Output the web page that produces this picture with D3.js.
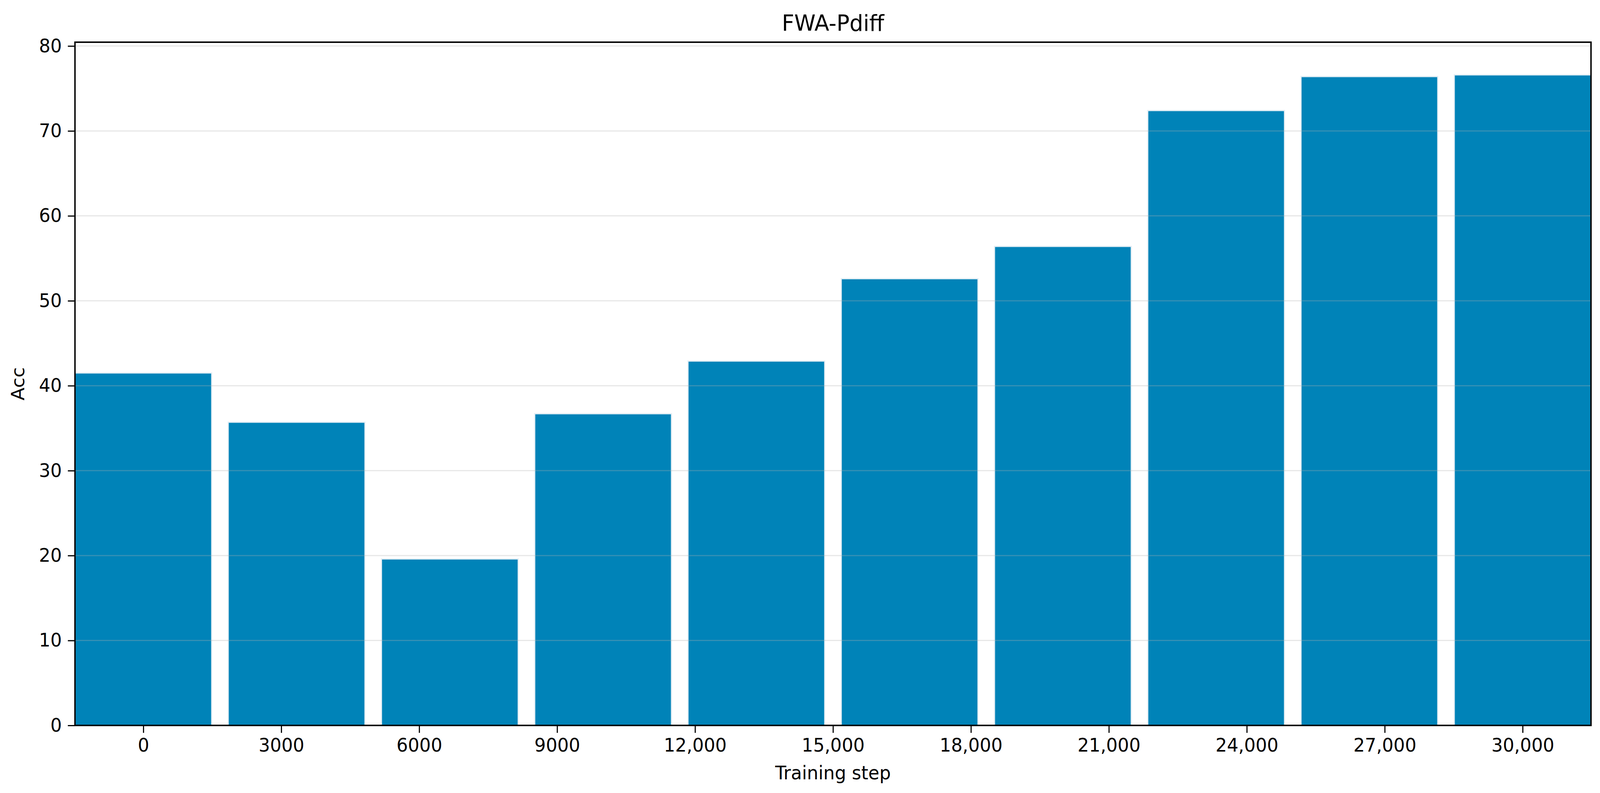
<!DOCTYPE html>
<html>
<head>
<meta charset="utf-8">
<script src="https://cdn.jsdelivr.net/npm/d3@7"></script>
<style>
  html, body { margin: 0; padding: 0; background: #fff; overflow: hidden; }
  #result svg { display: block; width: 100vw; height: 100vh; }
  text { font-family: "DejaVu Sans", sans-serif; fill: #000; }
</style>
</head>
<body>
<div id="result"></div>
<script>
// data
const accValues = [41.5, 35.7, 19.6, 36.7, 42.9, 52.6, 56.4, 72.4, 76.4, 76.6];
const tickLabels = ["0", "3000", "6000", "9000", "12,000", "15,000", "18,000", "21,000", "24,000", "27,000", "30,000"];
const yTicks = [0, 10, 20, 30, 40, 50, 60, 70, 80];

const W = 4268, H = 2030;
const plotL = 200, plotR = 4244, plotT = 108, plotB = 1857;

// drawn in a fixed 4268x2030 box, stretched to whatever the window is
let svg = d3.select("#result").append("svg")
    .attr("viewBox", `0 0 ${W} ${H}`)
    .attr("preserveAspectRatio", "none");

// bars sit in bands, the 11 tick labels are spread evenly between first and last bar centre
const x = d3.scaleBand()
    .domain(d3.range(accValues.length))
    .range([plotL, plotR])
    .paddingInner(0.108)
    .paddingOuter(0);

const xTick = d3.scalePoint()
    .domain(tickLabels)
    .range([x(0) + x.bandwidth() / 2, x(accValues.length - 1) + x.bandwidth() / 2]);

const y = d3.scaleLinear()
    .domain([0, 80.45])
    .range([plotB, plotT]);

function drawBars() {
    svg.append("g").selectAll("rect")
        .data(accValues)
        .join("rect")
        .attr("x", (d, i) => x(i))
        .attr("y", d => y(d))
        .attr("width", x.bandwidth())
        .attr("height", d => y(0) - y(d))
        .attr("fill", "#0083b8")
        .attr("stroke", "#e2edf4")   // light halo round each bar
        .attr("stroke-width", 3);
}

function drawGrid() {
    // grid lies over the bars, grey with alpha
    svg.append("g").selectAll("line")
        .data(yTicks)
        .join("line")
        .attr("x1", plotL)
        .attr("x2", plotR)
        .attr("y1", d => y(d))
        .attr("y2", d => y(d))
        .attr("stroke", "#b0b0b0")
        .attr("stroke-opacity", 0.3)
        .attr("stroke-width", 3);
}

function drawAxes() {
    const xAxis = d3.axisBottom(xTick).tickSize(19).tickPadding(14);
    const gx = svg.append("g")
        .attr("transform", `translate(0,${plotB})`)
        .call(xAxis);
    gx.select(".domain").remove();
    gx.selectAll("line").attr("stroke", "#000").attr("stroke-width", 3);
    gx.selectAll("text").attr("font-size", 48).attr("font-family", "DejaVu Sans");

    const yAxis = d3.axisLeft(y).tickValues(yTicks).tickSize(19).tickPadding(16);
    const gy = svg.append("g")
        .attr("transform", `translate(${plotL},0)`)
        .call(yAxis);
    gy.select(".domain").remove();
    gy.selectAll("line").attr("stroke", "#000").attr("stroke-width", 3);
    gy.selectAll("text").attr("font-size", 48).attr("font-family", "DejaVu Sans");

    // frame round the plot
    svg.append("rect")
        .attr("x", plotL)
        .attr("y", plotT)
        .attr("width", plotR - plotL)
        .attr("height", plotB - plotT)
        .attr("fill", "none")
        .attr("stroke", "#000")
        .attr("stroke-width", 3.8);
}

function drawTexts() {
    svg.append("text")
        .attr("x", (plotL + plotR) / 2)
        .attr("y", 79)
        .attr("text-anchor", "middle")
        .attr("font-size", 57.6)
        .text("FWA-Pdiff");

    svg.append("text")
        .attr("x", (plotL + plotR) / 2)
        .attr("y", 1995)
        .attr("text-anchor", "middle")
        .attr("font-size", 48)
        .text("Training step");

    svg.append("text")
        .attr("transform", `translate(65,${(plotT + plotB) / 2}) rotate(-90)`)
        .attr("text-anchor", "middle")
        .attr("font-size", 48)
        .text("Acc");
}

function main() {
    drawBars();
    drawGrid();
    drawAxes();
    drawTexts();
}

main();
</script>
</body>
</html>
